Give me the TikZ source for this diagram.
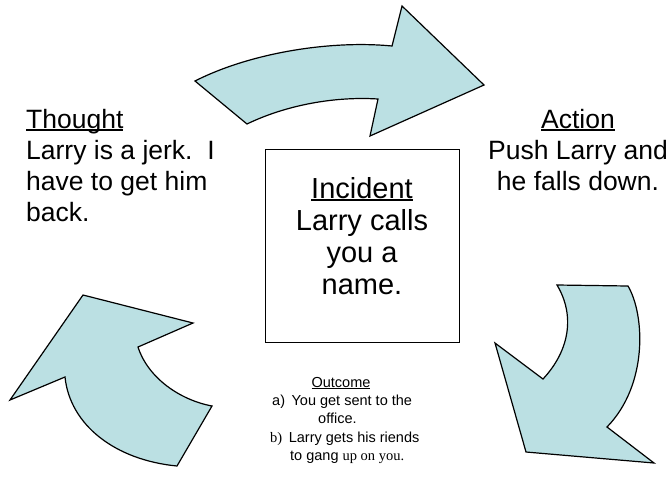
\documentclass[tikz,border=0pt]{standalone}
\usepackage{fontspec}
\setmainfont{Liberation Sans}
\newfontfamily\timesx{Liberation Serif}
\definecolor{arrowfill}{RGB}{187,224,227}
\newcommand\ulx[1]{\setbox0\hbox{#1}\rlap{\rule[-0.11em]{\wd0}{0.065em}}\box0}
\tikzset{
  bigarrow/.style={draw=black, line width=1.2pt, fill=arrowfill, line join=miter},
  sidetext/.style={font=\fontsize{26.5}{31}\selectfont, inner sep=0pt},
  boxtext/.style={font=\fontsize{29}{32}\selectfont, inner sep=0pt, anchor=base},
  smalltext/.style={font=\fontsize{14.5}{18}\selectfont, inner sep=0pt},
  framebox/.style={draw=black, line width=1pt, minimum width=194pt, minimum height=193pt, inner sep=0pt}
}
\begin{document}
\begin{tikzpicture}[x=1pt,y=-1pt]
\useasboundingbox (0,0) rectangle (671,480);
% top arrow
\draw[bigarrow] (195,81) -- (247,124) .. controls (282,107) and (330,96) .. (378,99)
  -- (370,136) -- (484,85) -- (402,6) -- (392,46)
  .. controls (330,40) and (250,53) .. (195,81) -- cycle;
% right arrow
\draw[bigarrow] (557,285) -- (628,286) .. controls (645,315) and (648,385) .. (607,427)
  -- (654,463) -- (526,452) -- (495,343) -- (543,379)
  .. controls (570,350) and (575,315) .. (557,285) -- cycle;
% left arrow
\draw[bigarrow] (83,295) -- (193,323) -- (138,347) .. controls (148,378) and (180,400) .. (212,406)
  -- (177,466) .. controls (115,460) and (70,425) .. (65,377) -- (10,400) -- cycle;
% incident box
\node[framebox] (incident) at (362,245.5) {};
\node[boxtext] (inc1) at (362,198) {\ulx{Incident}};
\node[boxtext] (inc2) at (362,230) {Larry calls};
\node[boxtext] (inc3) at (362,262) {you a};
\node[boxtext] (inc4) at (362,294) {name.};
% thought
\node[sidetext, anchor=base west] (th1) at (26,128) {\ulx{Thought}};
\node[sidetext, anchor=base west] (th2) at (26,159) {Larry is a jerk.\ \ I};
\node[sidetext, anchor=base west] (th3) at (26,190) {have to get him};
\node[sidetext, anchor=base west] (th4) at (26,221) {back.};
% action
\node[sidetext, anchor=base] (ac1) at (578,128) {\ulx{Action}};
\node[sidetext, anchor=base] (ac2) at (578,159) {Push Larry and};
\node[sidetext, anchor=base] (ac3) at (578,190) {he falls down.};
% outcome
\node[smalltext, anchor=base] (oc1) at (341,387) {\ulx{Outcome}};
\node[smalltext, anchor=base west] (oc2) at (272,405) {a)\hspace{0.45em}You get sent to the};
\node[smalltext, anchor=base west] (oc3) at (318,423) {office.};
\node[smalltext, anchor=base west] (oc4) at (270,442) {{\timesx b)}\hspace{0.45em}Larry gets his riends};
\node[smalltext, anchor=base west] (oc5) at (290,460) {to gang {\timesx up on you.}};
\end{tikzpicture}
\end{document}
